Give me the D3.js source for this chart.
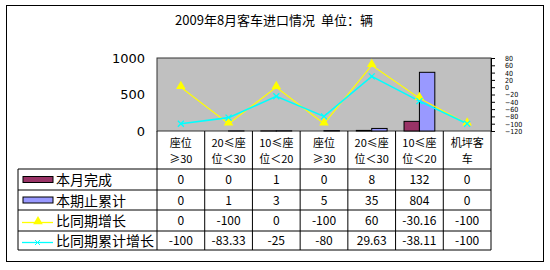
<!DOCTYPE html>
<html>
<meta charset="utf-8">
<head>
  <script src="https://cdn.jsdelivr.net/npm/d3@7"></script>
  <style>
  body { margin: 0; background: #fff; }
  svg { font-family: "Noto Sans CJK SC", "DejaVu Sans", sans-serif; }
  .cell { font-size: 12px; text-anchor: middle; }
  .head { font-size: 11px; text-anchor: middle; }
  .rt .tick text { font-size: 7px; }
  </style>
</head>
<body>
<svg id="chart" width="550" height="270"></svg>
<script>

var categories = [["座位", "≥30"], ["20≤座", "位＜30"], ["10≤座", "位＜20"], ["座位", "≥30"],
                  ["20≤座", "位＜30"], ["10≤座", "位＜20"], ["机坪客", "车"]]
var monthDone = [0, 0, 1, 0, 8, 132, 0]
var cumTotal = [0, 1, 3, 5, 35, 804, 0]
var yoyGrowth = [0, -100, 0, -100, 60, -30.16, -100]
var cumGrowth = [-100, -83.33, -25, -80, 29.63, -38.11, -100]
var cellText = [
  ["0", "0", "1", "0", "8", "132", "0"],
  ["0", "1", "3", "5", "35", "804", "0"],
  ["0", "-100", "0", "-100", "60", "-30.16", "-100"],
  ["-100", "-83.33", "-25", "-80", "29.63", "-38.11", "-100"]
]
var seriesNames = ["本月完成", "本期止累计", "比同期增长", "比同期累计增长"]
var leftTicks = [0, 500, 1000]
var rightTicks = d3.range(-120, 81, 20)

var plot = {left: 157, right: 491, top: 58, bottom: 131}
var tableLeft = 18
var rowLines = [169, 190, 210, 231, 250]

var svg = d3.select("#chart")

// outer frame
svg.append("rect").attr("x", 6.5).attr("y", 5.5).attr("width", 537).attr("height", 256)
  .attr("fill", "#fff").attr("stroke", "#000")

svg.append("text").attr("x", 274).attr("y", 25).attr("text-anchor", "middle")
  .style("font-size", "13px").attr("xml:space", "preserve").text("2009年8月客车进口情况  单位：辆")

var x = d3.scaleBand().domain(d3.range(categories.length)).range([plot.left, plot.right])
var xs = d3.scaleBand().domain([0, 1]).range([0, x.bandwidth()]).paddingInner(0).paddingOuter(0.55)
var yL = d3.scaleLinear().domain([0, 1000]).range([plot.bottom, plot.top])
var yR = d3.scaleLinear().domain([-120, 80]).range([plot.bottom, plot.top])

svg.append("rect").attr("x", plot.left).attr("y", plot.top)
  .attr("width", plot.right - plot.left).attr("height", plot.bottom - plot.top)
  .attr("fill", "#c0c0c0").attr("stroke", "#333")

// bars
var barColors = ["#993366", "#9999ff"]
;[monthDone, cumTotal].forEach(function(vals, s){
  svg.append("g").selectAll("rect").data(vals).enter().append("rect")
    .attr("x", function(d, i){ return x(i) + xs(s) })
    .attr("width", xs.bandwidth())
    .attr("y", function(d){ return yL(d) })
    .attr("height", function(d){ return yL(0) - yL(d) })
    .attr("fill", barColors[s]).attr("stroke", "#000").attr("stroke-width", 1)
    .style("display", function(d){ return d > 0 ? null : "none" })
})

// lines
var line = d3.line().x(function(d, i){ return x(i) + x.bandwidth() / 2 }).y(function(d){ return yR(d) })
svg.append("path").datum(yoyGrowth).attr("d", line).attr("fill", "none").attr("stroke", "#ffff00").attr("stroke-width", 1.1)
svg.append("path").datum(cumGrowth).attr("d", line).attr("fill", "none").attr("stroke", "#00ffff").attr("stroke-width", 1.6)

var tri = d3.symbol().type(d3.symbolTriangle).size(40)
function triMarks(g, data){
  g.selectAll("path").data(data).enter().append("path")
    .attr("d", tri)
    .attr("transform", function(d, i){ return "translate(" + (x(i) + x.bandwidth() / 2) + "," + (yR(d) - 1) + ")" })
    .attr("fill", "#ffff00")
}
triMarks(svg.append("g"), yoyGrowth)

function crossMarks(g, data, r){
  g.selectAll("path").data(data).enter().append("path")
    .attr("d", function(d, i){
      var cx = x(i) + x.bandwidth() / 2, cy = yR(d)
      return "M" + (cx - r) + "," + (cy - r) + "L" + (cx + r) + "," + (cy + r) +
             "M" + (cx - r) + "," + (cy + r) + "L" + (cx + r) + "," + (cy - r)
    })
    .attr("stroke", "#00ffff").attr("stroke-width", 1.3)
}
crossMarks(svg.append("g"), cumGrowth, 3)

// axes
var la = svg.append("g").attr("transform", "translate(" + plot.left + ",0)")
  .call(d3.axisLeft(yL).tickValues(leftTicks).tickFormat(d3.format("d")).tickSize(0).tickPadding(12))
la.select(".domain").remove()
la.selectAll("text").style("font-size", "13px").style("font-family", "DejaVu Sans, sans-serif")

var ra = svg.append("g").attr("class", "rt").attr("transform", "translate(" + plot.right + ",0)")
  .call(d3.axisRight(yR).tickValues(rightTicks).tickSize(4).tickPadding(10))
ra.select(".domain").attr("stroke", "#000")
ra.selectAll("text").style("font-family", "DejaVu Sans Condensed, sans-serif").attr("dy", "0.35em")

// data table
var grid = svg.append("g").attr("stroke", "#000").attr("stroke-width", 1)
d3.range(categories.length + 1).forEach(function(i){
  var xx = i < categories.length ? x(i) : plot.right
  grid.append("line").attr("x1", xx).attr("x2", xx).attr("y1", plot.bottom).attr("y2", rowLines[rowLines.length - 1])
})
grid.append("line").attr("x1", tableLeft).attr("x2", tableLeft).attr("y1", rowLines[0]).attr("y2", rowLines[rowLines.length - 1])
rowLines.forEach(function(yy){
  grid.append("line").attr("x1", tableLeft).attr("x2", plot.right).attr("y1", yy).attr("y2", yy)
})

var head = svg.append("g")
categories.forEach(function(c, i){
  c.forEach(function(t, k){
    head.append("text").attr("class", "head").attr("x", x(i) + x.bandwidth() / 2)
      .attr("y", 147 + k * 16).text(t)
  })
})

cellText.forEach(function(row, r){
  var cy = (rowLines[r] + rowLines[r + 1]) / 2 + 4.5
  row.forEach(function(t, i){
    svg.append("text").attr("class", "cell").attr("x", x(i) + x.bandwidth() / 2).attr("y", cy).text(t)
  })
  svg.append("text").attr("x", 56).attr("y", cy + 1).style("font-size", "14px").text(seriesNames[r])
})

// legend keys
;[0, 1].forEach(function(s){
  var cy = (rowLines[s] + rowLines[s + 1]) / 2
  svg.append("rect").attr("x", 23).attr("y", cy - 3).attr("width", 30).attr("height", 6)
    .attr("fill", barColors[s]).attr("stroke", "#000")
})
var ky = (rowLines[2] + rowLines[3]) / 2 + 2
svg.append("line").attr("x1", 22).attr("x2", 53).attr("y1", ky).attr("y2", ky).attr("stroke", "#ffff00").attr("stroke-width", 1.3)
svg.append("path").attr("d", tri).attr("transform", "translate(38," + (ky - 1) + ")").attr("fill", "#ffff00")
var ky2 = (rowLines[3] + rowLines[4]) / 2 + 2
svg.append("line").attr("x1", 22).attr("x2", 53).attr("y1", ky2).attr("y2", ky2).attr("stroke", "#00ffff").attr("stroke-width", 1.3)
svg.append("path").attr("d", "M35," + (ky2 - 2.5) + "L40," + (ky2 + 2.5) + "M35," + (ky2 + 2.5) + "L40," + (ky2 - 2.5))
  .attr("stroke", "#00ffff")

</script>
</body>
</html>
